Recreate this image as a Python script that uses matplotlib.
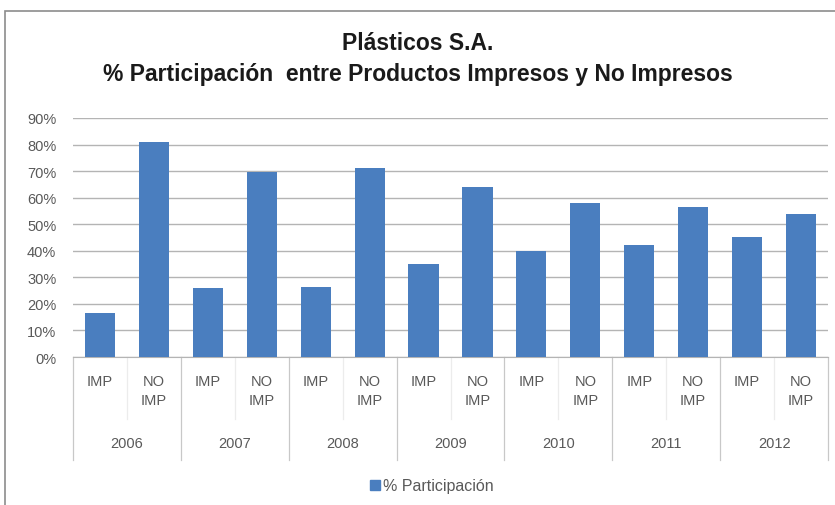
import matplotlib
matplotlib.use("Agg")
import matplotlib.pyplot as plt
from matplotlib.patches import Rectangle
from matplotlib.lines import Line2D
from matplotlib.ticker import FuncFormatter

years = ["2006", "2007", "2008", "2009", "2010", "2011", "2012"]
product_types = ["IMP", "NO\nIMP"]
participation_imp = [0.167, 0.259, 0.263, 0.352, 0.398, 0.422, 0.451]
participation_no_imp = [0.808, 0.698, 0.712, 0.639, 0.579, 0.564, 0.539]
y_ticks = [0.0, 0.1, 0.2, 0.3, 0.4, 0.5, 0.6, 0.7, 0.8, 0.9]

title_lines = ["Plásticos S.A.", "% Participación  entre Productos Impresos y No Impresos"]
series_name = "% Participación"

bar_color = "#4a7ebf"
grid_color = "#b4b4b4"
text_color = "#595959"
label_size = 10.5

plt.rcParams["font.family"] = ["Liberation Sans", "DejaVu Sans"]

W, H = 835, 506
fig = plt.figure(figsize=(W / 100, H / 100), dpi=100)

# chart frame
fig.patches.append(Rectangle((5 / W, -0.1), 1.2, 1.1 - 12 / H, transform=fig.transFigure,
                             fill=False, edgecolor="#8c8c8c", linewidth=1.2))

left_px, right_px, top_px, bottom_px = 73, 828, 119, 358
ax = fig.add_axes([left_px / W, 1 - bottom_px / H, (right_px - left_px) / W,
                   (bottom_px - top_px) / H])

values = []
labels = []
for imp, noimp in zip(participation_imp, participation_no_imp):
    values += [imp, noimp]
    labels += product_types
x = list(range(len(values)))

ax.bar(x, values, width=0.56, color=bar_color, zorder=3)
ax.set_xlim(-0.5, len(values) - 0.5)
ax.set_ylim(0, 0.9)
ax.set_yticks(y_ticks)
ax.yaxis.set_major_formatter(FuncFormatter(lambda v, _: f"{v * 100:.0f}%"))
ax.tick_params(axis="y", length=0, labelsize=label_size, colors=text_color, pad=12)
ax.set_xticks([])
ax.grid(axis="y", color=grid_color, linewidth=1, zorder=0)
for s in ["top", "right", "left"]:
    ax.spines[s].set_visible(False)
ax.spines["bottom"].set_color(grid_color)

plot_h = bottom_px - top_px
def frac(py):
    return -(py - bottom_px) / plot_h

tr = ax.get_xaxis_transform()
# category labels
for xi, lab in zip(x, labels):
    ax.text(xi, frac(375), lab, transform=tr, ha="center", va="top", fontsize=label_size,
            color=text_color, linespacing=1.45)
# separators
for k in range(len(values) + 1):
    if k % 2 == 0:
        y_end = frac(461)
        col = "#c8c8c8"
    else:
        y_end = frac(420)
        col = "#ececec"
    ax.add_line(Line2D([k - 0.5, k - 0.5], [0, y_end], transform=tr, color=col,
                       linewidth=0.9, clip_on=False))
# year labels
for i, yr in enumerate(years):
    ax.text(2 * i + 0.5, frac(444), yr, transform=tr, ha="center", va="center",
            fontsize=label_size, color=text_color)

# title
fig.text(0.5, 1 - 44 / H, title_lines[0], ha="center", va="center", fontsize=16.5,
         fontweight="bold", color="#1a1a1a")
fig.text(0.5, 1 - 75 / H, title_lines[1], ha="center", va="center", fontsize=16.5,
         fontweight="bold", color="#1a1a1a")

# legend
handle = Rectangle((0, 0), 1, 1, color=bar_color)
fig.legend([handle], [series_name], loc="center", bbox_to_anchor=(432 / W, 1 - 487 / H),
           frameon=False, fontsize=11.5, handlelength=0.6, handleheight=0.6,
           handletextpad=0.2, labelcolor=text_color)

fig.savefig("out.png", dpi=100)
